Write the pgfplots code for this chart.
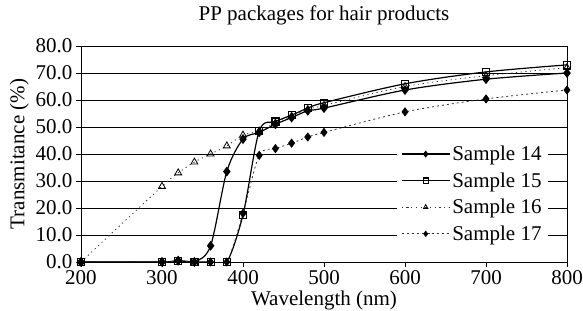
\documentclass[border=0pt]{standalone}
\usepackage{fontspec}
\setmainfont{Liberation Serif}
\usepackage{pgfplots}
\pgfplotsset{compat=1.18}
\begin{document}
\begin{tikzpicture}[font=\fontsize{21}{25}\selectfont]
\begin{axis}[
 name=ax,
 scale only axis, width=486pt, height=216pt,
 xmin=200, xmax=800, ymin=0, ymax=80,
 xtick={200,300,...,800}, ytick={0,10,...,80},
 ymajorgrids, grid style={black, line width=0.9pt},
 axis line style={line width=0.9pt},
 tick style={black, line width=0.9pt},
 tick align=outside, major tick length=5pt,
 xtick pos=bottom, ytick pos=left,
 yticklabel style={/pgf/number format/.cd, fixed, fixed zerofill, precision=1, assume math mode=true},
 xticklabel style={/pgf/number format/assume math mode=true},
 title={PP packages for hair products},
 title style={at={(axis description cs:0.5,1)}, anchor=base, yshift=19pt, inner sep=0pt},
 xlabel={Wavelength (nm)},
 xlabel style={at={(axis description cs:0.5,0)}, anchor=base, yshift=-44pt, inner sep=0pt},
 ylabel={Transmitance (\%)},
 legend style={at={(axis cs:590,44.5)}, anchor=north west, draw=none, fill=white,
   inner xsep=4pt, inner ysep=2pt, row sep=6.5pt, font=\fontsize{21}{25}\selectfont},
 legend cell align=left,
 legend image code/.code={\draw[mark repeat=2,mark phase=2,#1,mark size=2.6pt] plot coordinates {(0pt,0pt) (24pt,0pt) (48pt,0pt)};},
]
\addplot[black, line width=1.2pt, smooth, mark=diamond*, mark size=4pt, mark options={solid}] coordinates {
(200,0)(300,0)(320,0.5)(340,0)(360,6)(380,33.5)(400,45.5)(420,48)(440,51)(460,53.5)(480,56)(500,57)(600,63.7)(700,67.7)(800,70)};
\addlegendentry{Sample 14}
\addplot[black, line width=1.2pt, smooth, mark=square, mark size=3.5pt, mark options={solid, fill=white}] coordinates {
(200,0)(300,0)(320,0.5)(340,0)(360,0)(380,0)(400,17.5)(420,48.5)(440,52)(460,54.4)(480,57)(500,59)(600,66)(700,70.4)(800,73)};
\addlegendentry{Sample 15}
\addplot[black!80, line width=0.8pt, smooth, dash pattern=on 1.2pt off 3.5pt, mark=triangle, mark size=4pt, mark options={solid, black, fill=white}] coordinates {
(200,0)(300,28)(320,33)(340,37)(360,40)(380,43)(400,47)(420,48.5)(440,51.5)(460,54)(480,56.5)(500,58)(600,65)(700,69)(800,72)};
\addlegendentry{Sample 16}
\addplot[black!80, line width=0.8pt, smooth, dash pattern=on 2pt off 3pt, mark=diamond*, mark size=4pt, mark options={solid, black}] coordinates {
(200,0)(300,0)(320,0.5)(340,0)(360,0)(380,0)(400,18)(420,39.5)(440,42)(460,44)(480,46.3)(500,48)(600,55.6)(700,60.4)(800,63.7)};
\addlegendentry{Sample 17}
\end{axis}
\pgfresetboundingbox
\path[use as bounding box] ([xshift=-81pt,yshift=-49pt]ax.south west) rectangle ([xshift=16pt,yshift=46pt]ax.north east);
\end{tikzpicture}
\end{document}
